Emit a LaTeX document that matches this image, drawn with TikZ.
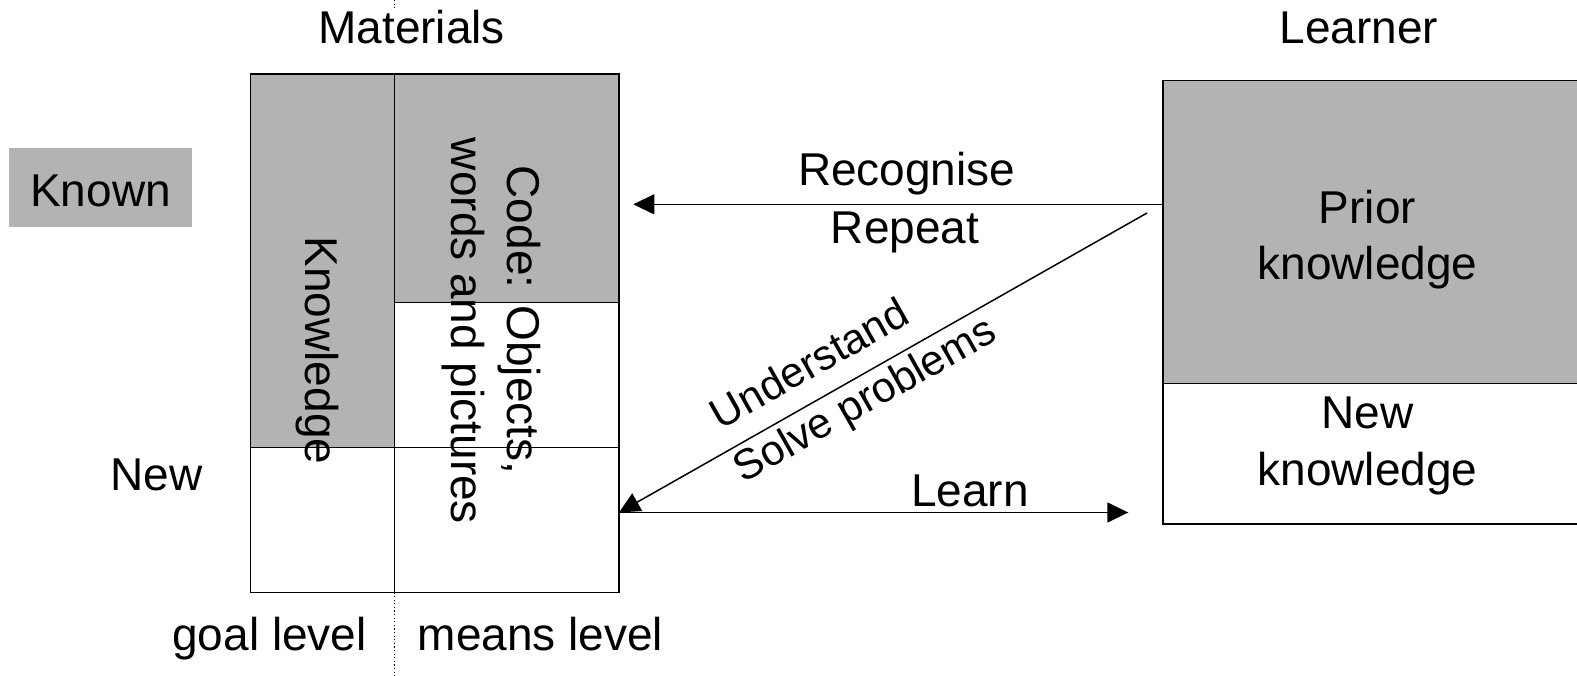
\documentclass[tikz,border=0pt]{standalone}
\usepackage{fontspec}
\setmainfont{Liberation Sans}
\usetikzlibrary{arrows.meta}
\definecolor{boxgray}{RGB}{179,179,179}
\begin{document}
\begin{tikzpicture}[x=1pt,y=-1pt,
  lbl/.style={font=\fontsize{46}{56.7}\selectfont, inner sep=0pt, anchor=base},
  slopelbl/.style={font=\fontsize{42.5}{50}\selectfont, inner sep=0pt, anchor=center, rotate=29.5},
  cell/.style={draw=black, line width=1.5pt, inner sep=0pt, outer sep=0pt, anchor=north west},
  shaded/.style={cell, fill=boxgray},
  plain/.style={cell, fill=white},
  link/.style={line width=1.5pt, -{Triangle[length=21pt,width=20pt]}},
  divider/.style={line width=1.2pt, dash pattern=on 1.2pt off 2.4pt},
]
\useasboundingbox (0,0) rectangle (1577,676);

% column headings
\node[lbl] (mat) at (411.7,43.3) {Materials};
\node[lbl] (learner) at (1359,43.3) {Learner};

% row legend
\node[fill=boxgray, inner sep=0pt, minimum width=183pt, minimum height=78.4pt] (knownbox) at (100.5,187.5) {};
\node[lbl] (known) at (100.5,207) {Known};
\node[lbl] (newlbl) at (156.7,490.7) {New};

% materials grid: goal column and means column
\node[shaded, minimum width=144pt, minimum height=373.7pt] (knowcell) at (250.3,74) {};
\node[plain, minimum width=144pt, minimum height=144.6pt] (goalnew) at (250.3,447.7) {};
\node[shaded, minimum width=224.7pt, minimum height=228.3pt] (codeold) at (394.3,74) {};
\node[plain, minimum width=224.7pt, minimum height=145.4pt] (codemid) at (394.3,302.3) {};
\node[plain, minimum width=224.7pt, minimum height=144.6pt] (codenew) at (394.3,447.7) {};

% dotted divider between the two levels
\coordinate (divtop) at (394.3,0);
\coordinate (divbot) at (394.3,676);
\draw[divider] (divtop) -- (divtop |- mat.north);
\draw[divider] (codenew.south west) -- (divbot);

\node[lbl, rotate=-90] (knowtxt) at (305,350.5) {Knowledge};
\node[lbl, rotate=-90] (code1) at (507,320) {Code: Objects,};
\node[lbl, rotate=-90] (code2) at (451,331) {words and pictures};

\node[lbl] (goal) at (269.5,650.7) {goal level};
\node[lbl] (means) at (540.5,650.7) {means level};

% learner
\node[shaded, minimum width=417pt, minimum height=302.6pt] (prior) at (1163,80.7) {};
\node[plain, minimum width=417pt, minimum height=140.7pt] (newk) at (1163,383.3) {};
\node[lbl] (prior1) at (1367.5,223.3) {Prior};
\node[lbl] (prior2) at (1367.5,280) {knowledge};
\node[lbl] (new1) at (1367.5,428.3) {New};
\node[lbl] (new2) at (1367.5,485) {knowledge};

% connectors
\coordinate (recTip) at (633.3,204.3);
\draw[link] (prior.west |- recTip) -- (recTip);
\node[lbl] (rec) at (906.7,186) {Recognise};
\node[lbl] (rep) at (905,243.3) {Repeat};

\coordinate (diagStart) at (1147,213);
\coordinate (learnTip) at (1128.3,512.5);
\draw[link] (diagStart) -- (codenew.east |- learnTip);
\draw[link] (codenew.east |- learnTip) -- (learnTip);
\node[lbl] (learn) at (970,506) {Learn};
\node[slopelbl] (und) at (809,363) {Understand};
\node[slopelbl] (solve) at (866,402) {Solve problems};
\end{tikzpicture}
\end{document}
